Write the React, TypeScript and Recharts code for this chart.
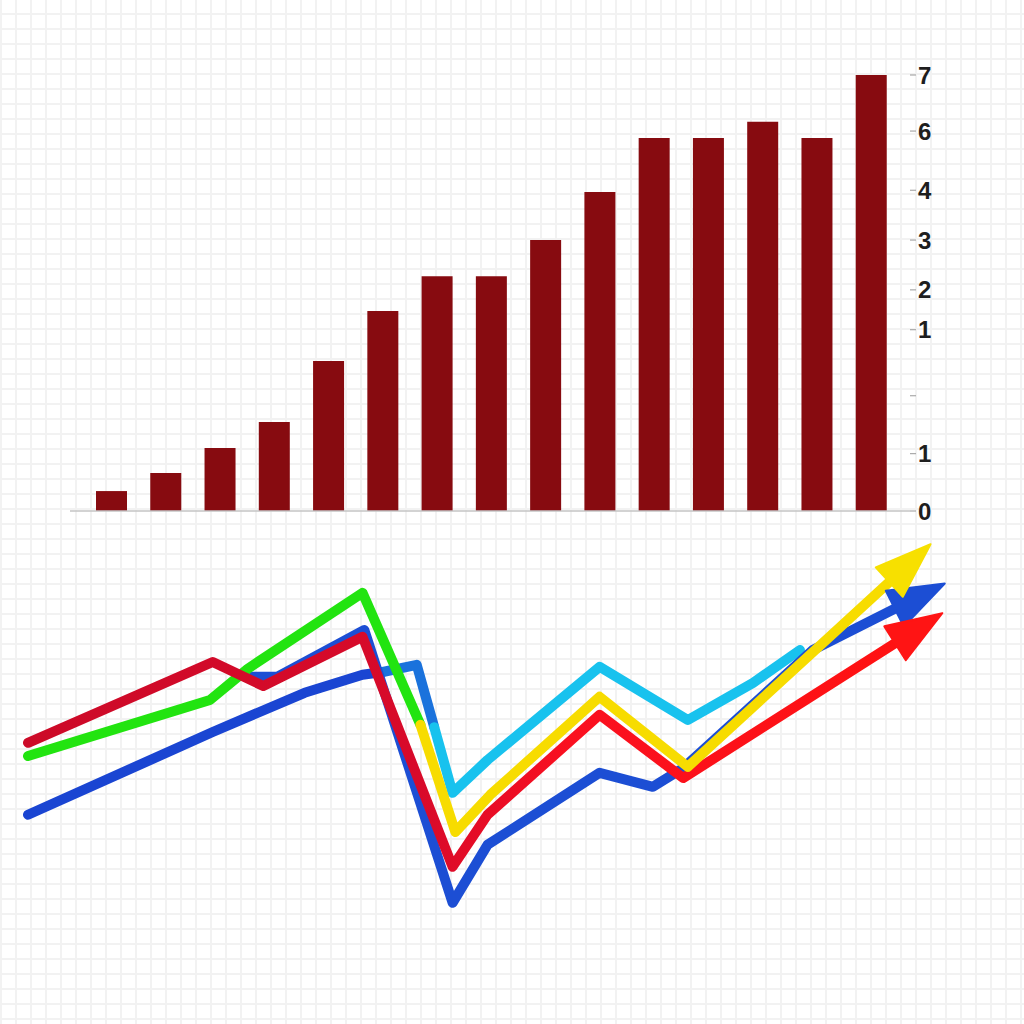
import React from 'react';
import { BarChart, Bar, XAxis, YAxis, LineChart, Line } from 'recharts';

// ---- Bar chart data ----
const categories = ['1', '2', '3', '4', '5', '6', '7', '8', '9', '10', '11', '12', '13', '14', '15'];
const barValues = [0.32, 0.61, 1.01, 1.43, 2.41, 3.21, 3.77, 3.77, 4.35, 5.12, 5.99, 5.99, 6.25, 5.99, 7.0];
const yTickValues = [0, 0.92, 1.85, 2.91, 3.55, 4.35, 5.15, 6.1, 7];
const yTickLabels = ['0', '1', '', '1', '2', '3', '4', '6', '7'];

// ---- Line series data ----
const greenX = [0, 1.98, 2.39, 3.64, 4.27];
const greenY = [4.85, 6.25, 7.03, 8.93, 5.63];
const yellowX = [4.27, 4.65, 5.03, 6.22, 7.18, 9.42];
const yellowY = [5.63, 2.95, 3.88, 6.33, 4.58, 9.3];
const redX = [0, 2.01, 2.56, 3.64, 4.62, 5.0, 6.22, 7.13, 9.49];
const redY = [5.18, 7.2, 6.6, 7.83, 2.08, 3.38, 5.88, 4.3, 7.75];
const darkBlueX = [0, 2.01, 3.01, 3.64, 3.86];
const darkBlueY = [3.38, 5.45, 6.43, 6.88, 6.95];
const midBlueX = [3.86, 4.23, 4.42];
const midBlueY = [6.95, 7.13, 5.57];
const cyanX = [4.42, 4.62, 5.0, 6.22, 7.18, 7.89, 8.4];
const cyanY = [5.57, 3.93, 4.75, 7.08, 5.75, 6.68, 7.5];
const blueX = [2.42, 2.71, 3.66, 4.62, 5.0, 6.22, 6.8, 7.13, 8.54, 9.49];
const blueY = [6.83, 6.83, 8.0, 1.18, 2.63, 4.43, 4.08, 4.55, 7.5, 8.6];

const toPoints = (xs: number[], ys: number[]) => xs.map((x, i) => ({ x, y: ys[i] }));
const barData = categories.map((c, i) => ({ name: c, value: barValues[i] }));

const makeArrow = (color: string) => (props: any) => {
  const { cx, cy, index, points } = props;
  if (!points || index !== points.length - 1 || index === 0) return <g key={`d-${index}`} />;
  const prev = points[index - 1];
  const ang = Math.atan2(cy - prev.y, cx - prev.x);
  const c = Math.cos(ang);
  const s = Math.sin(ang);
  const L = 56;
  const W = 20;
  const bx = cx - 6 * c;
  const by = cy - 6 * s;
  const tip = [bx + L * c, by + L * s];
  const a = [bx - W * s, by + W * c];
  const b = [bx + W * s, by - W * c];
  return (
    <polygon
      key={`d-${index}`}
      points={`${a[0]},${a[1]} ${tip[0]},${tip[1]} ${b[0]},${b[1]}`}
      fill={color}
      stroke={color}
      strokeWidth={2}
      strokeLinejoin="round"
    />
  );
};

const lineCommon = {
  dataKey: 'y',
  strokeWidth: 10,
  strokeLinejoin: 'round' as const,
  strokeLinecap: 'round' as const,
  isAnimationActive: false,
  activeDot: false as const,
};

export default function App() {
  return (
    <div
      style={{
        position: 'absolute',
        left: 0,
        top: 0,
        width: 1024,
        height: 1024,
        backgroundColor: '#ffffff',
        backgroundImage:
          'linear-gradient(#f2f2f2 2px, transparent 2px), linear-gradient(90deg, #f2f2f2 2px, transparent 2px)',
        backgroundSize: '15px 15px',
        backgroundPosition: '0 -2px',
        fontFamily: '"Liberation Sans", Arial, sans-serif',
      }}
    >
      <svg width={0} height={0} style={{ position: 'absolute' }}>
        <defs>
          <linearGradient id="redGrad" x1="0" y1="0" x2="1" y2="0">
            <stop offset="0" stopColor="#cc0a28" />
            <stop offset="0.45" stopColor="#d80a2a" />
            <stop offset="0.62" stopColor="#fa1020" />
            <stop offset="1" stopColor="#ff1212" />
          </linearGradient>
        </defs>
      </svg>

      <div style={{ position: 'absolute', left: 0, top: 0 }}>
        <BarChart width={1024} height={540} data={barData} margin={{ top: 75, right: 0, bottom: 28, left: 70 }}>
          <XAxis
            dataKey="name"
            height={1}
            tick={false}
            tickLine={false}
            axisLine={{ stroke: '#c4c4c4', strokeWidth: 1.5 }}
            padding={{ left: 14, right: 12 }}
          />
          <YAxis
            orientation="right"
            width={114}
            domain={[0, 7]}
            ticks={yTickValues}
            interval={0}
            tickFormatter={(v: number, i: number) => yTickLabels[i]}
            axisLine={false}
            tickLine={{ stroke: '#999' }}
            tickSize={6}
            tickMargin={2}
            tick={{ fill: '#1e1e1e', fontSize: 24, fontWeight: 'bold', fontFamily: '"Liberation Sans", Arial, sans-serif' }}
          />
          <Bar dataKey="value" fill="#870b10" barSize={31} isAnimationActive={false} />
        </BarChart>
      </div>

      <div style={{ position: 'absolute', left: 0, top: 0 }}>
        <LineChart width={1024} height={1024} margin={{ top: 550, right: 77, bottom: 74, left: 28 }}>
          <XAxis type="number" dataKey="x" domain={[0, 10]} hide />
          <YAxis type="number" domain={[0, 10]} hide />
          <Line {...lineCommon} data={toPoints(darkBlueX, darkBlueY)} stroke="#1a45d2" dot={false} />
          <Line {...lineCommon} data={toPoints(midBlueX, midBlueY)} stroke="#1a72dc" dot={false} />
          <Line {...lineCommon} data={toPoints(cyanX, cyanY)} stroke="#18c2ee" dot={false} />
          <Line {...lineCommon} data={toPoints(blueX, blueY)} stroke="#1c4ed4" dot={makeArrow('#1c4ed4')} />
          <Line {...lineCommon} data={toPoints(greenX, greenY)} stroke="#22e410" dot={false} />
          <Line {...lineCommon} data={toPoints(redX, redY)} stroke="url(#redGrad)" dot={makeArrow('#ff1414')} />
          <Line {...lineCommon} data={toPoints(yellowX, yellowY)} stroke="#f7dc00" dot={makeArrow('#f7e000')} />
        </LineChart>
      </div>
    </div>
  );
}
